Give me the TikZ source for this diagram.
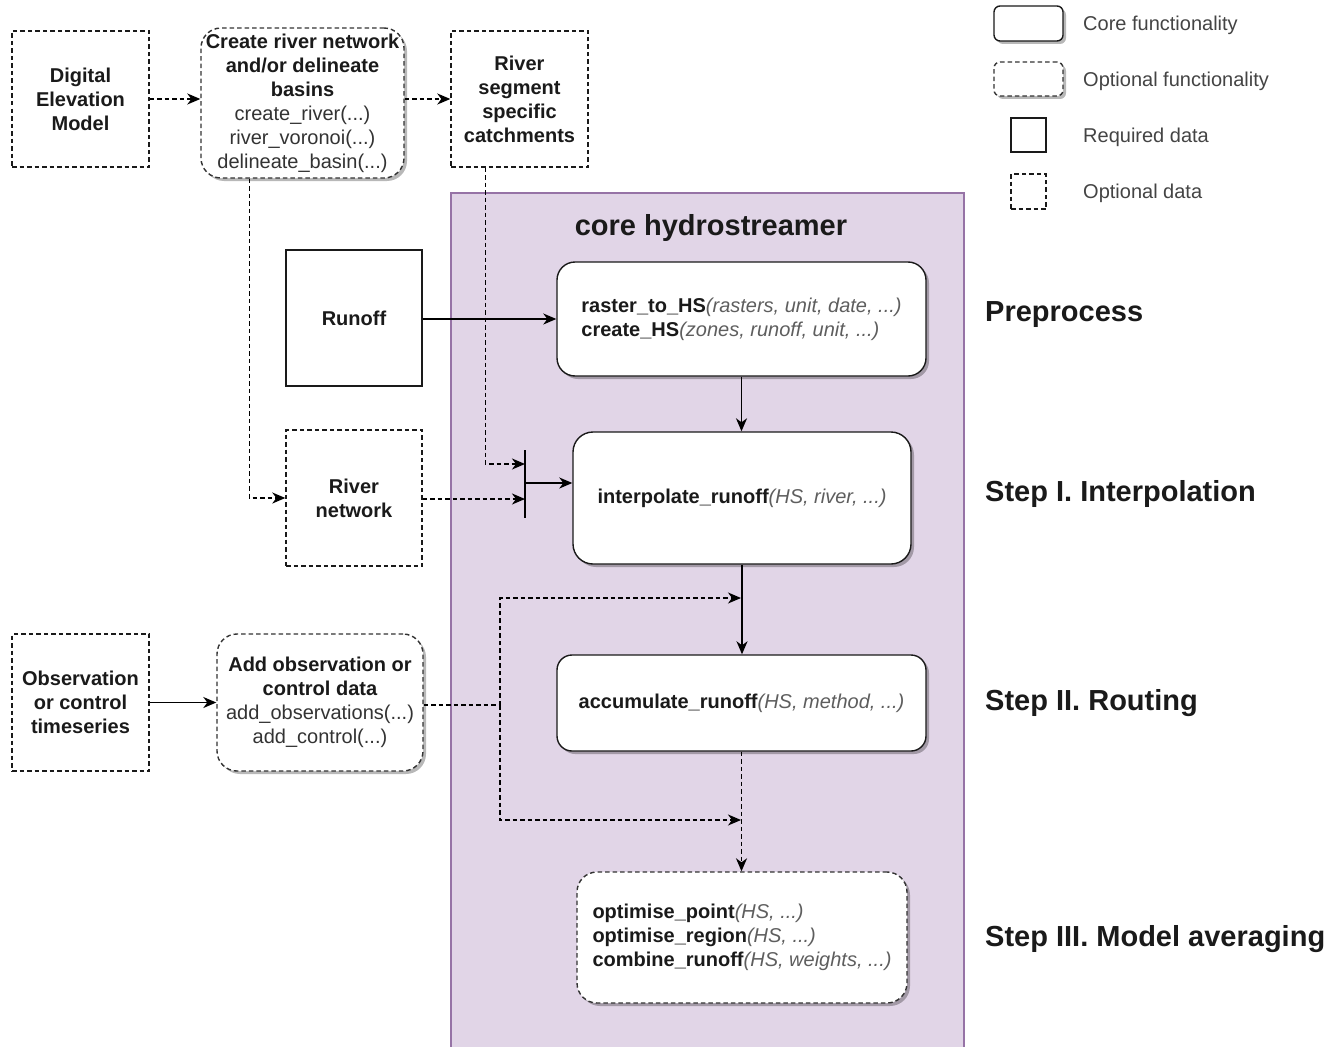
\documentclass[tikz,border=0pt]{standalone}
\usepackage{fontspec}
\setmainfont{Liberation Sans}
\usetikzlibrary{arrows.meta,shadows}
\definecolor{purplefill}{HTML}{E1D5E7}
\definecolor{purpledraw}{HTML}{9673A6}
\definecolor{txt}{HTML}{1A1A1A}
\definecolor{argc}{HTML}{5E5E5E}
\definecolor{fnc}{HTML}{333333}
\definecolor{lgc}{HTML}{444444}
\newcommand{\fargs}[1]{\textcolor{argc}{\itshape #1}}
\begin{document}
\begin{tikzpicture}[x=1pt,y=-1pt,
  every node/.style={font=\fontsize{20}{24}\selectfont, text=txt, inner sep=0pt},
  shd/.style={drop shadow={shadow xshift=3pt,shadow yshift=-3pt,fill=black,opacity=0.28}},
  dsh/.style={dash pattern=on 4.5pt off 3pt},
  reqdata/.style={draw=txt, line width=1.4pt, align=center, font=\fontsize{20}{24}\selectfont\bfseries},
  optdata/.style={reqdata, dsh},
  corefn/.style={draw=txt, line width=1.4pt, fill=white, rounded corners=#1, shd, align=left},
  corefn/.default=18pt,
  optfn/.style={corefn=#1, dsh, draw=black!80},
  optfn/.default=18pt,
  conn/.style={draw=black, line width=1.6pt, -{Stealth[length=13pt,width=11pt,inset=4pt]}},
  dconn/.style={conn, dsh},
  plain/.style={draw=black, line width=1.6pt},
  dplain/.style={plain, dsh},
  stage/.style={anchor=west, font=\fontsize{29}{35}\selectfont\bfseries},
  legtext/.style={anchor=west, text=lgc}
]
\useasboundingbox (0,0) rectangle (1337,1046);
\fill[white] (0,0) rectangle (1337,1046);

% core container
\filldraw[fill=purplefill, draw=purpledraw, line width=1.3pt] (451,193) rectangle (964,1052);
\node[font=\fontsize{29}{35}\selectfont\bfseries] (core) at (711,228) {core hydrostreamer};

% top row
\node[optdata, minimum width=137pt, minimum height=136pt] (dem) at (80.5,99) {Digital\\Elevation\\Model};
\node[optfn=20pt, minimum width=203pt, minimum height=150pt, align=center] (cr) at (302.5,103)
  {\textbf{Create river network}\\\textbf{and/or delineate}\\\textbf{basins}\\\textcolor{fnc}{create\_river(...)}\\\textcolor{fnc}{river\_voronoi(...)}\\\textcolor{fnc}{delineate\_basin(...)}};
\node[optdata, minimum width=137pt, minimum height=136pt] (seg) at (519.5,99) {River\\segment\\specific\\catchments};

% data
\node[reqdata, minimum width=136pt, minimum height=136pt] (ro) at (354,318) {Runoff};
\node[optdata, minimum width=136pt, minimum height=136pt] (rn) at (354,498) {River\\network};
\node[optdata, minimum width=137pt, minimum height=137pt] (obs) at (80.5,702.5) {Observation\\or control\\timeseries};
\node[optfn=20pt, minimum width=206pt, minimum height=137pt, align=center] (ao) at (320,702.5)
  {\textbf{Add observation or}\\\textbf{control data}\\\textcolor{fnc}{add\_observations(...)}\\\textcolor{fnc}{add\_control(...)}};

% core functions
\node[corefn, minimum width=369pt, minimum height=114pt] (pre) at (741.5,319)
  {\textbf{raster\_to\_HS}\fargs{(rasters, unit, date, ...)}\\\textbf{create\_HS}\fargs{(zones, runoff, unit, ...)}};
\node[corefn=20pt, minimum width=338pt, minimum height=132pt] (ip) at (742,498)
  {\textbf{interpolate\_runoff}\fargs{(HS, river, ...)}};
\node[corefn=15pt, minimum width=369pt, minimum height=96pt] (acc) at (741.5,703)
  {\textbf{accumulate\_runoff}\fargs{(HS, method, ...)}};
\node[optfn=20pt, minimum width=330pt, minimum height=131pt] (opt) at (742,937.5)
  {\textbf{optimise\_point}\fargs{(HS, ...)}\\\textbf{optimise\_region}\fargs{(HS, ...)}\\\textbf{combine\_runoff}\fargs{(HS, weights, ...)}};

% stage labels
\node[stage] (lpre) at (985,315) {Preprocess};
\node[stage] (lint) at (985,494) {Step I. Interpolation};
\node[stage] (lrout) at (985,703) {Step II. Routing};
\node[stage] (lavg) at (985,939) {Step III. Model averaging};

% legend
\node[corefn=6pt, minimum width=69pt, minimum height=35pt] (lg1) at (1028.5,23.5) {};
\node[optfn=6pt, minimum width=69pt, minimum height=34pt] (lg2) at (1028.5,79) {};
\node[plain, draw=txt, line width=1.4pt, minimum width=35pt, minimum height=34pt] (lg3) at (1028.5,135) {};
\node[dplain, draw=txt, line width=1.4pt, minimum width=35pt, minimum height=35pt] (lg4) at (1028.5,191.5) {};
\node[legtext] (lt1) at (1083,25) {Core functionality};
\node[legtext] (lt2) at (1083,81) {Optional functionality};
\node[legtext] (lt3) at (1083,137) {Required data};
\node[legtext] (lt4) at (1083,193) {Optional data};

% junction bar
\coordinate (bt) at (525,450);
\coordinate (bb) at (525,518);
\coordinate (bm) at (525,483);
\coordinate (b1) at (525,464);
\coordinate (b2) at (525,499);
\draw[plain] (bt) -- (bb);

% connectors
\draw[dconn] (dem.east) -- (dem.east -| cr.west);
\draw[dconn] (cr.east |- dem.east) -- (seg.west |- dem.east);
\draw[dconn] ([xshift=49pt]cr.south west) |- (rn.west);
\draw[dconn] ([xshift=35pt]seg.south west) |- (b1);
\draw[dconn] (rn.east |- b2) -- (b2);
\draw[conn] (bm) -- (bm -| ip.west);
\draw[conn] (ro.east |- pre.west) -- (pre.west);
\draw[conn] (pre.south) -- (pre.south |- ip.north);
\draw[conn] (ip.south) -- (ip.south |- acc.north);
\draw[conn] (obs.east) -- (ao.west);
\coordinate (j) at (500,705);
\coordinate (c1) at (741,598);
\coordinate (c2) at (741,820);
\draw[dplain] (ao.east |- j) -- (j);
\draw[dconn] (j) |- (c1);
\draw[dconn] (j) |- (c2);
\draw[dconn] (acc.south) -- (acc.south |- opt.north);
\end{tikzpicture}
\end{document}
